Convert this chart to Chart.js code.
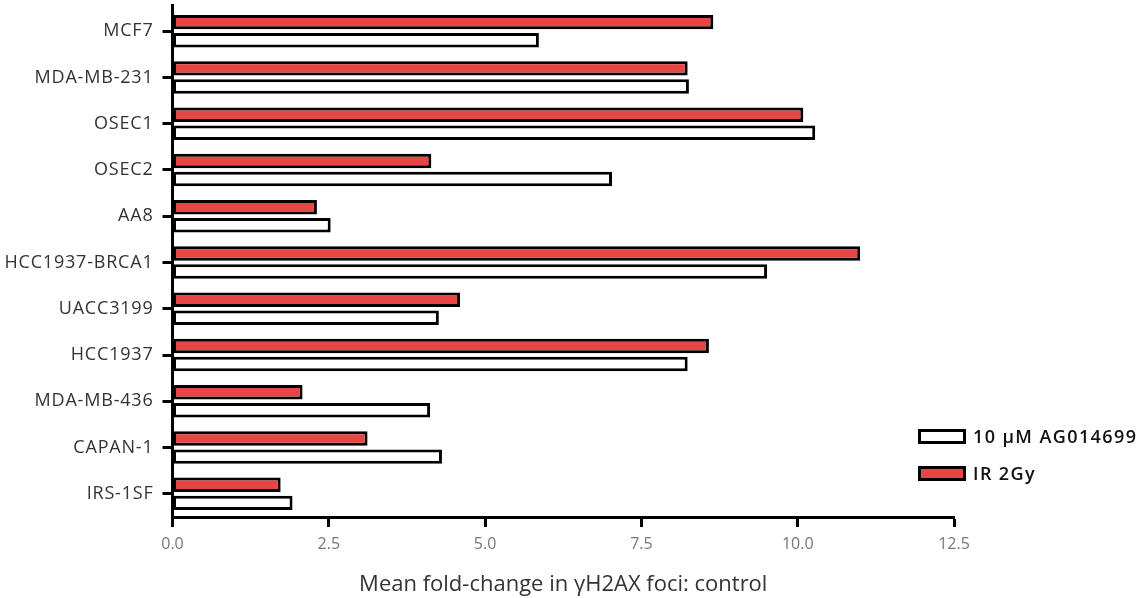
<!DOCTYPE html>
<html>
<head>
<meta charset="utf-8">
<script src="https://cdn.jsdelivr.net/npm/chart.js@4/dist/chart.umd.min.js"></script>
<style>
  html, body { margin: 0; padding: 0; background: #fff; }
  #wrap { position: relative; width: 1144px; height: 598px; }
</style>
</head>
<body>
<div id="wrap"><canvas id="c" width="1144" height="598"></canvas></div>
<script>
const categories = ["MCF7", "MDA-MB-231", "OSEC1", "OSEC2", "AA8", "HCC1937-BRCA1", "UACC3199", "HCC1937", "MDA-MB-436", "CAPAN-1", "IRS-1SF"];
const irValues = [8.65, 8.24, 10.09, 4.14, 2.31, 11.0, 4.6, 8.58, 2.08, 3.12, 1.73];
const agValues = [5.86, 8.26, 10.28, 7.03, 2.53, 9.51, 4.26, 8.24, 4.12, 4.31, 1.92];
const xTickLabels = ["0.0", "2.5", "5.0", "7.5", "10.0", "12.5"];
const seriesNames = ["10 \u00B5M AG014699", "IR 2Gy"];
const xTitle = "Mean fold-change in \u03B3H2AX foci: control";

const RED = "#e84545";
const FONT = "'Open Sans', Lato, sans-serif";

const spacingPlugin = {
  id: "ySpacing",
  afterUpdate(chart) {
    const s = chart.scales.y;
    if (s && !s._spacedPatch) {
      const orig = s.drawLabels.bind(s);
      s.drawLabels = function (area) {
        const ctx = chart.ctx;
        ctx.save();
        ctx.letterSpacing = "0.8px";
        orig(area);
        ctx.restore();
      };
      s._spacedPatch = true;
    }
  }
};

const legendPlugin = {
  id: "customLegend",
  afterDraw(chart) {
    const ctx = chart.ctx;
    ctx.save();
    ctx.strokeStyle = "#000";
    ctx.lineWidth = 3;
    ctx.beginPath();
    ctx.moveTo(chart.chartArea.left, 4);
    ctx.lineTo(chart.chartArea.left, chart.chartArea.top + 1);
    ctx.stroke();
    const items = [
      { name: seriesNames[0], fill: "#ffffff", y: 436.5 },
      { name: seriesNames[1], fill: RED, y: 473.5 }
    ];
    items.forEach(it => {
      ctx.fillStyle = it.fill;
      ctx.strokeStyle = "#000";
      ctx.lineWidth = 3;
      ctx.fillRect(919.5, it.y - 6, 45, 12);
      ctx.strokeRect(919.5, it.y - 6, 45, 12);
      ctx.fillStyle = "#111";
      ctx.font = "600 18px " + FONT;
      ctx.letterSpacing = "1.4px";
      ctx.textBaseline = "middle";
      ctx.textAlign = "left";
      ctx.fillText(it.name, 973, it.y + 1);
    });
    ctx.restore();
  }
};

new Chart(document.getElementById("c"), {
  type: "bar",
  data: {
    labels: categories,
    datasets: [
      {
        label: seriesNames[1],
        data: irValues,
        backgroundColor: RED,
        borderColor: "#000",
        borderWidth: 3,
        borderSkipped: false,
        barPercentage: 0.8,
        categoryPercentage: 0.78
      },
      {
        label: seriesNames[0],
        data: agValues,
        backgroundColor: "#ffffff",
        borderColor: "#000",
        borderWidth: 3,
        borderSkipped: false,
        barPercentage: 0.8,
        categoryPercentage: 0.78
      }
    ]
  },
  options: {
    indexAxis: "y",
    responsive: false,
    animation: false,
    layout: { padding: { top: 8, right: 190, left: 0, bottom: 0 } },
    plugins: {
      legend: { display: false },
      tooltip: { enabled: false }
    },
    scales: {
      x: {
        min: 0,
        max: 12.5,
        afterBuildTicks(scale) {
          scale.ticks = xTickLabels.map(v => ({ value: parseFloat(v) }));
        },
        ticks: {
          callback: (v, i) => xTickLabels[i],
          color: "#777",
          font: { family: FONT, size: 16 },
          padding: 8,
          maxRotation: 0
        },
        grid: {
          display: true,
          drawOnChartArea: false,
          drawTicks: true,
          tickLength: 10,
          tickWidth: 3,
          tickColor: "#000"
        },
        border: { display: true, color: "#000", width: 3 },
        title: {
          display: true,
          text: xTitle,
          color: "#333",
          font: { family: FONT, size: 22 },
          padding: { top: 4, bottom: 0 }
        },
        afterFit(scale) { scale.height = 81; scale.paddingLeft = 0; scale.paddingRight = 0; }
      },
      y: {
        ticks: {
          color: "#333",
          font: { family: FONT, size: 18 },
          padding: 9
        },
        grid: {
          display: true,
          drawOnChartArea: false,
          drawTicks: true,
          tickLength: 10,
          tickWidth: 3,
          tickColor: "#000",
          offset: false
        },
        border: { display: true, color: "#000", width: 3 },
        afterFit(scale) { scale.width = 172.5; scale.paddingTop = 0; scale.paddingBottom = 0; }
      }
    }
  },
  plugins: [spacingPlugin, legendPlugin]
});
</script>
</body>
</html>
